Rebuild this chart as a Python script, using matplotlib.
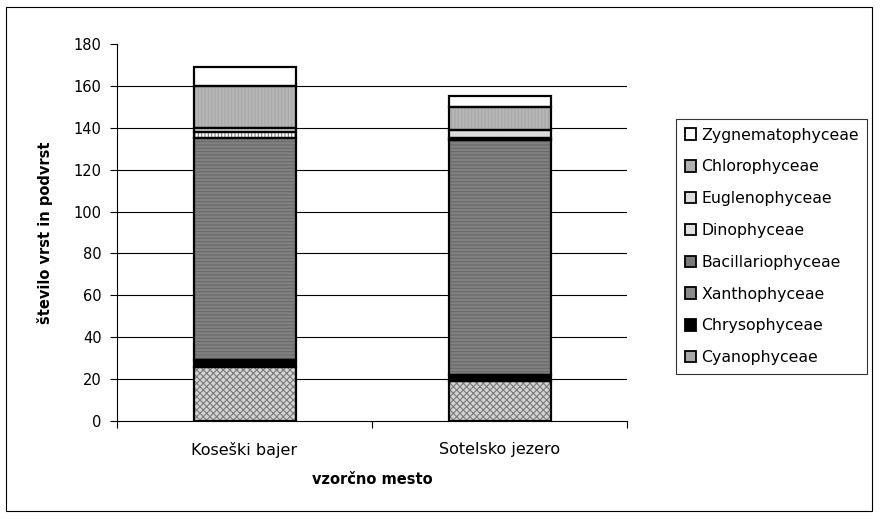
import matplotlib
matplotlib.use("Agg")
import matplotlib.pyplot as plt
from matplotlib.patches import Rectangle, Patch
import numpy as np

plt.rcParams['font.family'] = ['DejaVu Sans']

sites = ["Koseški bajer", "Sotelsko jezero"]
groups = ["Cyanophyceae", "Chrysophyceae", "Xanthophyceae", "Bacillariophyceae",
          "Dinophyceae", "Euglenophyceae", "Chlorophyceae", "Zygnematophyceae"]
cyanophyceae = [26, 19]
chrysophyceae = [3, 3]
xanthophyceae = [0, 0]
bacillariophyceae = [106, 112]
dinophyceae = [3, 1]
euglenophyceae = [2, 4]
chlorophyceae = [20, 11]
zygnematophyceae = [9, 5]
values = [cyanophyceae, chrysophyceae, xanthophyceae, bacillariophyceae,
          dinophyceae, euglenophyceae, chlorophyceae, zygnematophyceae]
yticks = [0, 20, 40, 60, 80, 100, 120, 140, 160, 180]

# (facecolor, hatch, hatchcolor, legend facecolor)
styles = [
    ("#d4d4d4", "xxxxx", "#7a7a7a", "#a8a8a8"),
    ("#000000", None, None, "#000000"),
    ("#9a9a9a", "xxxxx", "#303030", "#8a8a8a"),
    ("#808080", "-----", "#6a6a6a", "#7a7a7a"),
    ("#ffffff", "|||||", "#808080", "#e0e0e0"),
    ("#dcdcdc", None, None, "#dcdcdc"),
    ("#b6b6b6", "|||||", "#a8a8a8", "#b0b0b0"),
    ("#ffffff", None, None, "#ffffff"),
]

fig = plt.figure(figsize=(8.8, 5.19), dpi=100)
ax = fig.add_axes([117/880, 1-421/519, 510/880, 377/519])

x = np.arange(len(sites))
width = 0.4
bottom = np.zeros(len(sites))
plt.rcParams['hatch.linewidth'] = 0.8
for vals, (fc, hatch, hc, lc) in zip(values, styles):
    vals = np.array(vals, dtype=float)
    if hatch:
        ax.bar(x, vals, width, bottom=bottom, color=fc, hatch=hatch,
               edgecolor=hc, linewidth=0, zorder=3)
    else:
        ax.bar(x, vals, width, bottom=bottom, color=fc, linewidth=0, zorder=3)
    ax.bar(x, vals, width, bottom=bottom, fill=False, edgecolor="black",
           linewidth=1.6, zorder=4)
    bottom += vals

ax.set_xlim(-0.5, len(sites) - 0.5)
ax.set_ylim(0, 180)
ax.set_yticks(yticks)
ax.set_yticklabels([str(t) for t in yticks], fontsize=10.5)
for t in yticks[1:-1]:
    ax.axhline(t, color="black", linewidth=0.8, zorder=1)

ax.set_xticks(x)
ax.set_xticklabels(sites, fontsize=11.5)
ax.tick_params(axis="x", which="major", length=0, pad=15)
ax.set_xticks(np.arange(-0.5, len(sites), 1.0), minor=True)
ax.tick_params(axis="x", which="minor", length=5, direction="out", width=0.8)
ax.tick_params(axis="y", length=5, direction="out", width=0.8, pad=6)

for s in ["top", "right"]:
    ax.spines[s].set_visible(False)
for s in ["left", "bottom"]:
    ax.spines[s].set_linewidth(0.8)

ax.set_xlabel("vzorčno mesto", fontsize=10.5, fontweight="bold", labelpad=10)
ax.set_ylabel("število vrst in podvrst", fontsize=10.5, fontweight="bold", labelpad=15)

handles = []
for g, (fc, hatch, hc, lc) in zip(groups, styles):
    handles.append(Patch(facecolor=lc, edgecolor="black", linewidth=1.3, label=g))
leg = fig.legend(handles[::-1], groups[::-1], loc="upper left",
                 bbox_to_anchor=(676/880, 1-119/519), fontsize=11.3,
                 frameon=True, fancybox=False, edgecolor="black",
                 handlelength=0.75, handleheight=0.75, handletextpad=0.3,
                 labelspacing=1.07, borderpad=0.55, borderaxespad=0)
leg.get_frame().set_linewidth(0.8)

fig.patches.append(Rectangle((6/880, 8/519), 866/880, 504/519, transform=fig.transFigure,
                             fill=False, edgecolor="black", linewidth=0.8))

fig.savefig("out.png", dpi=100)
